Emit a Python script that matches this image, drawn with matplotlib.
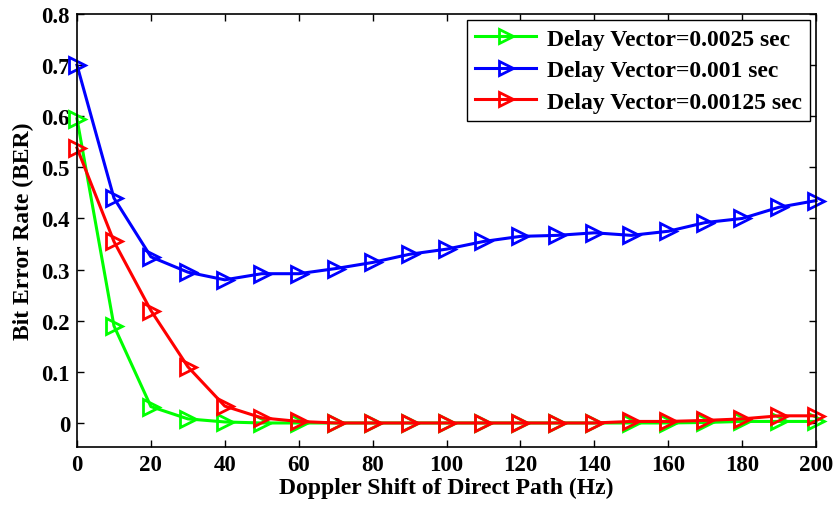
import numpy as np
import matplotlib.pyplot as plt

plt.rcParams['font.family'] = ['Liberation Serif', 'DejaVu Serif']
plt.rcParams['font.weight'] = 'bold'

#Doppler shift (Hz)
doppler = np.arange(0, 201, 10)

#BER for each delay vector
ber_0025 = [0.595, 0.19, 0.032, 0.008, 0.002, 0.0, 0.0, 0.0, 0.0, 0.0, 0.0,
            0.0, 0.0, 0.0, 0.0, 0.0, 0.0, 0.001, 0.003, 0.003, 0.003]
ber_001 = [0.70, 0.44, 0.325, 0.295, 0.28, 0.292, 0.292, 0.302, 0.314, 0.33, 0.34,
           0.355, 0.365, 0.367, 0.372, 0.367, 0.375, 0.392, 0.40, 0.422, 0.435]
ber_00125 = [0.538, 0.355, 0.22, 0.11, 0.033, 0.01, 0.003, 0.0, 0.0, 0.0, 0.0,
             0.0, 0.0, 0.0, 0.0, 0.003, 0.003, 0.005, 0.008, 0.014, 0.014]

labels = ['Delay Vector=0.0025 sec', 'Delay Vector=0.001 sec', 'Delay Vector=0.00125 sec']

fig = plt.figure(figsize=(8.36, 5.10), dpi=100)
ax = fig.add_axes([77/836, 62/510, 739/836, 433/510])

for y, c, lab in zip([ber_0025, ber_001, ber_00125], ['#00ff00', '#0000ff', '#ff0000'], labels):
    ax.plot(doppler, y, color=c, lw=2.2, marker='>', ms=12, mfc='none', mew=2,
            label=lab, clip_on=False)

ax.set_xlim(0, 200)
ax.set_ylim(-0.047, 0.8)
ax.set_xticks(np.arange(0, 201, 20))
ax.set_yticks(np.arange(0, 0.81, 0.1))
ax.set_yticklabels(['0', '0.1', '0.2', '0.3', '0.4', '0.5', '0.6', '0.7', '0.8'])
ax.tick_params(direction='in', top=True, right=True, labelsize=16.5, length=5, width=1, pad=5)
for s in ax.spines.values():
    s.set_linewidth(1.2)

ax.set_xlabel('Doppler Shift of Direct Path (Hz)', fontsize=17, fontweight='bold', labelpad=1)
ax.set_ylabel('Bit Error Rate (BER)', fontsize=17, fontweight='bold', labelpad=5)

leg = ax.legend(loc='upper right', fontsize=17, fancybox=False, edgecolor='black',
                framealpha=1, borderaxespad=0.25, handlelength=2.6, labelspacing=0.42,
                handletextpad=0.45, borderpad=0.35)
leg.get_frame().set_linewidth(1)
for h in leg.legend_handles:
    h.set_markersize(10)

fig.savefig('out.png', dpi=100)
